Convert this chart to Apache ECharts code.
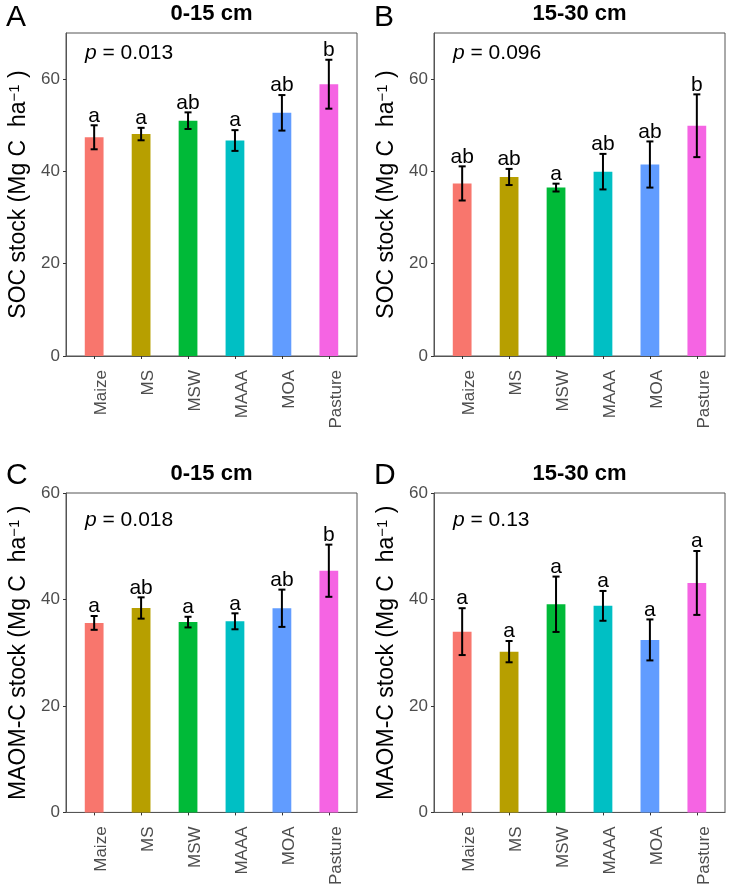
<!DOCTYPE html>
<html><head><meta charset="utf-8">
<script src="https://cdn.jsdelivr.net/npm/echarts@6/dist/echarts.min.js"></script>
<style>html,body{margin:0;padding:0;background:#fff}#c{width:730px;height:888px}</style>
</head><body><div id="c"></div>
<script>
const categories = ['Maize','MS','MSW','MAAA','MOA','Pasture'];
const barColors = ['#F8766D','#B79F00','#00BA38','#00BFC4','#619CFF','#F564E3'];
const yTicksSOC = [0,20,40,60];
const yTicksMAOM = [0,20,40,60];
const xTicks = [0,1,2,3,4,5];

const socTopMean = [47.4, 48.1, 51.0, 46.7, 52.7, 58.9];
const socTopErr = [2.6, 1.35, 1.8, 2.25, 3.85, 5.3];
const socTopLetters = ['a','a','ab','a','ab','b'];

const socSubMean = [37.4, 38.8, 36.5, 39.95, 41.5, 49.9];
const socSubErr = [3.7, 1.75, 0.85, 3.85, 5.0, 6.8];
const socSubLetters = ['ab','ab','a','ab','ab','b'];

const maomTopMean = [35.6, 38.4, 35.75, 35.9, 38.35, 45.4];
const maomTopErr = [1.3, 2.0, 1.0, 1.5, 3.5, 4.9];
const maomTopLetters = ['a','ab','a','a','ab','b'];

const maomSubMean = [33.96, 30.2, 39.1, 38.8, 32.4, 43.1];
const maomSubErr = [4.4, 2.0, 5.2, 2.8, 3.85, 6.0];
const maomSubLetters = ['a','a','a','a','a','a'];

const pValues = ['0.013','0.096','0.018','0.13'];
const panelTitles = ['0-15 cm','15-30 cm','0-15 cm','15-30 cm'];
const panelTags = ['A','B','C','D'];

const FONT = 'Liberation Sans, Arial, sans-serif';

const grids = [
  {left:66, top:33, width:291, height:323},
  {left:434, top:33, width:291, height:323},
  {left:66, top:493, width:291, height:324},
  {left:434, top:493, width:291, height:324}
];

const chart = echarts.init(document.getElementById('c'), null, {renderer:'canvas'});

function xAxis(i){
  return {
    type:'value', gridIndex:i, min:-0.6, max:5.6,
    splitLine:{show:false},
    axisLine:{show:true, onZero:false, lineStyle:{color:'#555', width:1}},
    axisTick:{show:true, length:3, inside:false, lineStyle:{color:'#333', width:1}, customValues:xTicks},
    axisLabel:{show:true, rotate:90, margin:14, color:'#4D4D4D', fontSize:17, fontFamily:FONT,
      customValues:xTicks, verticalAlign:'top', lineHeight:14,
      formatter: v => categories[Math.round(v)] || ''}
  };
}
function yAxis(i, max, ticks, label){
  return {
    type:'value', gridIndex:i, min:0, max:max,
    splitLine:{show:false},
    axisLine:{show:true, onZero:false, lineStyle:{color:'#555', width:1}},
    axisTick:{show:true, length:3, lineStyle:{color:'#333', width:1}, customValues:ticks},
    axisLabel:{color:'#4D4D4D', fontSize:17, fontFamily:FONT, margin:6, customValues:ticks},
    name: '{n|' + label + ' (Mg C  ha}{s|\u22121}{n| )}',
    nameLocation:'middle', nameGap:36, nameRotate:90,
    nameTextStyle:{ rich:{
      n:{fontSize:23, color:'#000', fontFamily:FONT},
      s:{fontSize:15, color:'#000', fontFamily:FONT, verticalAlign:'top'}
    }}
  };
}

function makeSeries(idx, means, errs, letters){
  return {
    type:'custom', xAxisIndex:idx, yAxisIndex:idx,
    data: means.map((m,i)=>[i, m, errs[i]]),
    encode:{x:0, y:1},
    renderItem: function(params, api){
      const i = api.value(0), m = api.value(1), e = api.value(2);
      const p0 = api.coord([i-0.2, m]);
      const p1 = api.coord([i+0.2, 0]);
      const t = api.coord([i, m+e]);
      const b = api.coord([i, m-e]);
      const tl = api.coord([i-0.075, m+e]);
      const tr = api.coord([i+0.075, m+e]);
      const bl = api.coord([i-0.075, m-e]);
      const br = api.coord([i+0.075, m-e]);
      const ls = {stroke:'#000', lineWidth:2};
      return {type:'group', children:[
        {type:'rect', shape:{x:p0[0], y:p0[1], width:p1[0]-p0[0], height:p1[1]-p0[1]}, style:{fill:barColors[i]}},
        {type:'line', shape:{x1:t[0], y1:t[1], x2:b[0], y2:b[1]}, style:ls},
        {type:'line', shape:{x1:tl[0], y1:tl[1], x2:tr[0], y2:tr[1]}, style:ls},
        {type:'line', shape:{x1:bl[0], y1:bl[1], x2:br[0], y2:br[1]}, style:ls},
        {type:'text', x:t[0], y:t[1]+1, style:{text:letters[params.dataIndex], fontSize:21, fontFamily:FONT, fill:'#000', align:'center', verticalAlign:'bottom'}}
      ]};
    }
  };
}

const tagPos = [[6,19],[374,19],[6,477],[374,477]];
const titleY = [14,14,474,474];
const pPos = [[85,53],[453,53],[85,520],[453,520]];

const graphics = [];
for (let k=0;k<4;k++){
  const g = grids[k];
  graphics.push({type:'text', left:tagPos[k][0], top:tagPos[k][1]-16, style:{text:panelTags[k], fontSize:30, fontFamily:FONT, fill:'#000'}});
  graphics.push({type:'text', x:g.left+g.width/2, y:titleY[k], style:{text:panelTitles[k], fontSize:22, fontWeight:'bold', fontFamily:FONT, fill:'#000', align:'center', verticalAlign:'middle'}});
  graphics.push({type:'text', x:pPos[k][0], y:pPos[k][1], style:{text:'{i|p} = ' + pValues[k], fontSize:21, fontFamily:FONT, fill:'#000', verticalAlign:'middle',
    rich:{i:{fontStyle:'italic', fontSize:21, fontFamily:FONT, fill:'#000'}}}});
}

chart.setOption({
  animation:false,
  backgroundColor:'#fff',
  grid: grids.map(g=>Object.assign({show:true, borderColor:'#555', borderWidth:1, backgroundColor:'transparent'}, g)),
  xAxis:[xAxis(0), xAxis(1), xAxis(2), xAxis(3)],
  yAxis:[yAxis(0,70,yTicksSOC,'SOC stock'), yAxis(1,70,yTicksSOC,'SOC stock'), yAxis(2,60,yTicksMAOM,'MAOM-C stock'), yAxis(3,60,yTicksMAOM,'MAOM-C stock')],
  series:[
    makeSeries(0, socTopMean, socTopErr, socTopLetters),
    makeSeries(1, socSubMean, socSubErr, socSubLetters),
    makeSeries(2, maomTopMean, maomTopErr, maomTopLetters),
    makeSeries(3, maomSubMean, maomSubErr, maomSubLetters)
  ],
  graphic: graphics
});
</script></body></html>
